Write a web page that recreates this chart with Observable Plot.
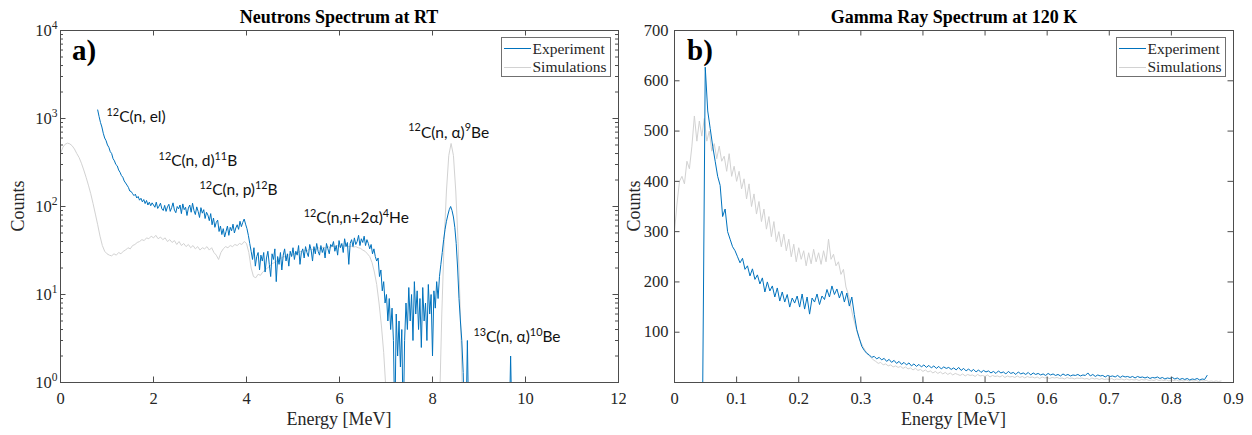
<!DOCTYPE html>
<html><head><meta charset="utf-8">
<script src="https://cdn.jsdelivr.net/npm/d3@7"></script>
<script src="https://cdn.jsdelivr.net/npm/@observablehq/plot@0.6"></script>
<style>
body{margin:0;background:#fff;}
#wrap{position:relative;width:1252px;height:435px;overflow:hidden;font-family:"Liberation Serif","Times New Roman",serif;color:#262626;}
.panel{position:absolute;top:0;}
.t{position:absolute;white-space:nowrap;line-height:1;}
.title{font-weight:bold;font-size:18px;color:#000;transform:translateX(-50%);}
.xl{font-size:18px;transform:translateX(-50%);}
.yl{font-size:18px;transform:translate(-50%,-50%) rotate(-90deg);}
.tag{font-weight:bold;font-size:29px;color:#000;}
.legend{position:absolute;box-sizing:border-box;border:1px solid #707070;background:#fff;}
.lline{position:absolute;height:0;border-top:1px solid;}
.ltext{position:absolute;font-size:15.5px;line-height:1;white-space:nowrap;color:#262626;}
</style></head>
<body><div id="wrap"></div>
<script>
// ---------- data ----------
const seriesNames = ["Experiment", "Simulations"];
const seriesColors = ["#0072BD", "#d2d2d2"];

// (a) Neutron spectrum, experiment: bins start 0.80 MeV, width 0.03 MeV
const neutronExpStart = 0.80, neutronExpStep = 0.03;
const neutronExp = [
 1250,1050,900,800,680,600,560,500,470,420,
 400,350,330,300,290,260,245,225,215,195,
 185,175,165,150,148,140,133,138,125,130,
 118,124,113,120,108,117,104,112,102,110,
 104,98,112,95,101,109,94,90,103,88,
 99,106,88,97,110,91,85,100,94,104,
 83,107,92,98,79,96,104,86,109,90,
 81,99,88,75,97,84,92,73,86,80,
 69,83,62,74,58,66,70,52,60,48,
 56,45,52,60,47,58,53,63,50,57,
 62,55,68,59,66,72,63,56,47,38,
 31,25,34,21,27,30,19,28,24,30,
 18,26,31,22,16,29,25,33,14,27,
 22,30,19,28,33,24,29,21,31,27,
 34,25,31,28,36,22,30,33,26,35,
 30,27,37,32,24,35,29,38,31,28,
 36,30,34,26,38,33,29,37,35,40,
 31,36,28,41,34,38,30,43,35,39,
 22,38,42,35,44,37,40,47,36,43,
 39,46,36,42,38,33,37,29,33,27,
 24,26,16,19,11,14,8,10,5,9,
 4,7,3,0.3,6,2,5,1.5,4,0.3,
 3,8,4,12,5,10,3,14,6,11,
 4,9,2.5,12,5,8,3,13,6,10,
 2,11,7,14,9,16,22,30,42,55,
 68,80,92,100,90,76,58,38,20,9,
 5,3,1.3,0.3,0.3,3,0.3,0.3,0.3,0.3,
 0.3,0.3,0.3,0.3,0.3,0.3,0.3,0.3,0.3,0.3,
 0.3,0.3,0.3,0.3,0.3,0.3,0.3,0.3,0.3,0.3,
 0.3,0.3,0.3,0.3,0.3,0.3,2,0.3
];
// (a) Neutron spectrum, simulations: bins start 0 MeV, width 0.05 MeV
const neutronSimStart = 0, neutronSimStep = 0.05;
const neutronSim = [
 400,470,510,525,515,490,450,400,360,310,
 260,215,175,140,108,82,62,46,36,31,
 29,28,27.5,29,28,30,29,31,32,34,
 33,36,37,39,40,42,41,44,43,46,
 44,47,43,45,42,44,40,42,39,41,
 37,40,36,38,35,37,34,36,33,35,
 32,34,33,35,32,34,30,28,25,30,
 33,35,34,36,35,37,36,38,37,40,
 38,30,20,16,15.5,17,16.5,18,19,20,
 21,22.5,23,24,25.5,26,27,26.5,28,29,
 28,30,29.5,31,30,32,31,33,32,33,
 32.5,34,33,34.5,34,35,34,35.5,35,36,
 35,36,35.5,36,35,35.5,34.5,35,34,33.5,
 32,31,29,27,23,18,13,8,4.5,2.2,
 0.8,0.3,0.3,0.3,0.3,0.3,0.3,0.3,0.3,0.3,
 0.3,0.3,0.3,0.3,0.3,0.3,0.3,0.3,0.3,0.3,
 0.3,0.3,0.3,0.5,6,40,150,380,520,380,
 150,40,6,0.5,0.3,0.3
];
// (b) Gamma spectrum, experiment: bins start 0.0455 MeV, width 0.004 MeV
const gammaExpStart = 0.0455, gammaExpStep = 0.004;
const gammaExp = [
 0,627,540,505,470,440,410,392,330,345,
 300,285,270,262,250,238,247,225,232,212,
 226,205,214,196,208,180,200,182,192,170,
 188,162,180,160,175,150,168,158,172,150,
 176,146,170,136,168,160,176,155,172,165,
 185,170,192,175,186,168,182,160,178,152,
 170,135,105,88,72,64,58,55,50,52,
 47,50,45,48,42,46,40,44,38,42,
 36,40,35,39,33,37,32,36,31,35,
 30,34,29,33,28,32,27,31,28,30,
 26,29,25,30,24,28,23,27,22,26,
 21,25,20,24,21,23,19,22,18,23,
 19,21,17,22,18,20,16,21,17,19,
 16,20,15,19,16,18,15,17,14,18,
 15,17,14,16,13,17,14,16,13,15,
 14,16,13,15,14,19,13,16,12,15,
 13,14,11,14,12,13,11,14,10,13,
 11,12,10,12,9,12,10,11,9,11,
 8,10,9,11,8,10,7,9,8,10,
 7,9,6,8,6,8,5,7,6,8,
 5,7,6,14
];
// (b) Gamma spectrum, simulations: bins start 0 MeV, width 0.004 MeV
const gammaSimStart = 0, gammaSimStep = 0.004;
const gammaSim = [
 300,355,400,410,395,440,425,470,530,480,
 520,490,525,480,500,460,475,445,470,440,
 450,420,455,410,430,400,420,385,405,365,
 395,350,375,335,360,320,345,305,330,290,
 320,280,300,270,295,262,285,250,275,240,
 268,245,262,232,258,236,265,240,258,235,
 262,240,285,245,255,232,240,215,225,190,
 175,150,128,110,92,80,70,62,55,50,
 45,42,38,40,35,37,33,35,31,33,
 30,32,28,31,27,29,25,28,24,26,
 22,25,21,23,19,22,18,21,17,20,
 16,19,15,18,16,14,17,13,16,14,
 15,12,16,13,14,12,15,11,14,12,
 13,11,14,10,13,11,12,10,13,10,
 12,9,12,10,11,9,11,8,11,9,
 10,8,10,9,10,8,9,7,10,8,
 9,7,9,8,9,7,8,6,9,7,
 8,6,8,6,7,6,8,5,7,6,
 7,5,7,5,6,5,6,4,6,5,
 6,4,5,4,6,4,5,4,5,3,
 5,4,5,3,4,3,5,3,4,3,
 4,2,4,3,4,2,3,2,3,2,
 3
];

const neutronXTicks = [0, 2, 4, 6, 8, 10, 12];
const neutronXTickLabels = ["0", "2", "4", "6", "8", "10", "12"];
const neutronYTicks = [1, 10, 100, 1000, 10000];
const neutronYTickLabels = ["10{0}", "10{1}", "10{2}", "10{3}", "10{4}"];
const gammaXTicks = [0, 0.1, 0.2, 0.3, 0.4, 0.5, 0.6, 0.7, 0.8, 0.9];
const gammaXTickLabels = ["0", "0.1", "0.2", "0.3", "0.4", "0.5", "0.6", "0.7", "0.8", "0.9"];
const gammaYTicks = [100, 200, 300, 400, 500, 600, 700];
const gammaYTickLabels = ["100", "200", "300", "400", "500", "600", "700"];

// {..} marks a superscript
const reactionLabels = ["{12}C(n, el)", "{12}C(n, d){11}B", "{12}C(n, p){12}B",
  "{12}C(n,n+2\u03b1){4}He", "{12}C(n, \u03b1){9}Be", "{13}C(n, \u03b1){10}Be"];
const reactionEnergies = [0.99, 2.11, 2.99, 5.23, 7.48, 8.88];
const reactionCounts = [1030, 325, 152, 73, 690, 3.25];

const panelTitles = ["Neutrons Spectrum at RT", "Gamma Ray Spectrum at 120 K"];
const panelTags = ["a)", "b)"];
const xTitle = "Energy [MeV]", yTitle = "Counts";

// ---------- build ----------
const toRows = (vals, start, step, s) => vals.map((v, i) => ({E: start + i * step, v, s}));
const W = 626, H = 435, MT = 30, MB = 53;
const axisColor = "#4d4d4d";
const ANN_FS = 15.5, TICK_FS = 16.5;

function panel({exp, sim, xDomain, yScale, xTicks, xLabels, yTicks, yLabels, minorY, ml, mr, tickPad, texts}) {
  const pw = W - ml - mr, ph = H - MT - MB;
  const xl = new Map(xTicks.map((t, i) => [t, xLabels[i]]));
  const yl = new Map(yTicks.map((t, i) => [t, yLabels[i]]));
  const marks = [
    Plot.line(sim, {x: "E", y: "v", stroke: seriesColors[1], strokeWidth: 1, clip: true}),
    Plot.line(exp, {x: "E", y: "v", stroke: seriesColors[0], strokeWidth: 1, clip: true}),
    Plot.frame({stroke: axisColor, strokeWidth: 1}),
    Plot.tickX(xTicks, {x: d => d, insetTop: ph - 5.5, stroke: axisColor}),
    Plot.tickX(xTicks, {x: d => d, insetBottom: ph - 5.5, stroke: axisColor}),
    Plot.tickY(yTicks, {y: d => d, insetRight: pw - 5.5, stroke: axisColor}),
    Plot.tickY(yTicks, {y: d => d, insetLeft: pw - 5.5, stroke: axisColor}),
    Plot.axisX(xTicks, {tickSize: 0, tickPadding: 10, tickFormat: d => xl.get(d), label: null, fill: "#262626"}),
    Plot.axisY(yTicks, {tickSize: 0, tickPadding: tickPad, tickFormat: d => yl.get(d), label: null, fill: "#262626"})
  ];
  if (minorY) {
    marks.push(Plot.tickY(minorY, {y: d => d, insetRight: pw - 3, stroke: axisColor}));
    marks.push(Plot.tickY(minorY, {y: d => d, insetLeft: pw - 3, stroke: axisColor}));
  }
  if (texts) {
    marks.push(Plot.text(texts, {x: "E", y: "c", text: "t", textAnchor: "start", lineAnchor: "middle",
      fontFamily: "Lato, 'Noto Sans', sans-serif", fontSize: ANN_FS, fill: "#111"}));
  }
  return Plot.plot({
    width: W, height: H, marginLeft: ml, marginRight: mr, marginTop: MT, marginBottom: MB,
    style: {fontFamily: "'Liberation Serif', 'Times New Roman', serif", fontSize: TICK_FS + "px", background: "transparent", color: "#262626"},
    x: {domain: xDomain},
    y: yScale,
    marks
  });
}

// turn "{..}" parts of a text element into raised, smaller tspans
const NS = "http://www.w3.org/2000/svg";
function supify(el, fs) {
  const raw = el.textContent;
  if (raw.indexOf("{") < 0) return;
  const parts = raw.split(/(\{[^}]*\})/).filter(p => p.length);
  el.textContent = "";
  let up = false;
  const shift = fs * 0.42;
  parts.forEach(p => {
    const ts = document.createElementNS(NS, "tspan");
    if (p[0] === "{") {
      ts.textContent = p.slice(1, -1);
      ts.setAttribute("font-size", (fs * 0.7).toFixed(2));
      ts.setAttribute("dy", up ? 0 : -shift);
      up = true;
    } else {
      ts.textContent = p;
      if (up) ts.setAttribute("dy", shift);
      up = false;
    }
    el.appendChild(ts);
  });
}

const minor = [];
for (let k = 0; k < 4; k++) for (let m = 2; m <= 9; m++) minor.push(m * Math.pow(10, k));

const texts = reactionLabels.map((t, i) => ({t, E: reactionEnergies[i], c: reactionCounts[i]}));

const left = panel({
  exp: toRows(neutronExp, neutronExpStart, neutronExpStep, seriesNames[0]),
  sim: toRows(neutronSim, neutronSimStart, neutronSimStep, seriesNames[1]),
  xDomain: [0, 12], yScale: {type: "log", domain: [1, 10000]},
  xTicks: neutronXTicks, xLabels: neutronXTickLabels, yTicks: neutronYTicks, yLabels: neutronYTickLabels,
  minorY: minor, ml: 60, mr: 8, tickPad: 3, texts
});
const right = panel({
  exp: toRows(gammaExp, gammaExpStart, gammaExpStep, seriesNames[0]),
  sim: toRows(gammaSim, gammaSimStart, gammaSimStep, seriesNames[1]),
  xDomain: [0, 0.9], yScale: {domain: [0, 700]},
  xTicks: gammaXTicks, xLabels: gammaXTickLabels, yTicks: gammaYTicks, yLabels: gammaYTickLabels,
  minorY: null, ml: 48, mr: 19, tickPad: 6, texts: null
});

left.querySelectorAll('g[aria-label="text"] text').forEach(t => supify(t, ANN_FS));
left.querySelectorAll('g[aria-label="y-axis tick label"] text').forEach(t => supify(t, TICK_FS));

const wrap = document.getElementById("wrap");
function addDiv(cls, html, style) {
  const d = document.createElement("div");
  d.className = cls; d.innerHTML = html; Object.assign(d.style, style); wrap.appendChild(d); return d;
}
const p1 = addDiv("panel", "", {left: "0px"}); p1.appendChild(left);
const p2 = addDiv("panel", "", {left: "626px"}); p2.appendChild(right);

// titles, axis titles, panel tags
addDiv("t title", panelTitles[0], {left: "339px", top: "7.5px"});
addDiv("t title", panelTitles[1], {left: "954px", top: "7.5px"});
addDiv("t xl", xTitle, {left: "339px", top: "409.5px"});
addDiv("t xl", xTitle, {left: "953.5px", top: "409.5px"});
addDiv("t yl", yTitle, {left: "18px", top: "206px"});
addDiv("t yl", yTitle, {left: "634px", top: "206px"});
addDiv("t tag", panelTags[0], {left: "72px", top: "35.5px"});
addDiv("t tag", panelTags[1], {left: "687px", top: "35.5px"});

// legends
function legend(x0, x1, lineX0, lineX1, textX) {
  addDiv("legend", "", {left: x0 + "px", top: "37px", width: (x1 - x0) + "px", height: "40px"});
  seriesNames.forEach((name, i) => {
    const ly = 48 + i * 18.5;
    addDiv("lline", "", {left: lineX0 + "px", top: ly + "px", width: (lineX1 - lineX0) + "px", borderTopColor: seriesColors[i]});
    addDiv("ltext", name, {left: textX + "px", top: (ly - 7.5) + "px"});
  });
}
legend(501, 611, 504, 531, 532.5);
legend(1116, 1226, 1119, 1146, 1147.5);
</script></body></html>
